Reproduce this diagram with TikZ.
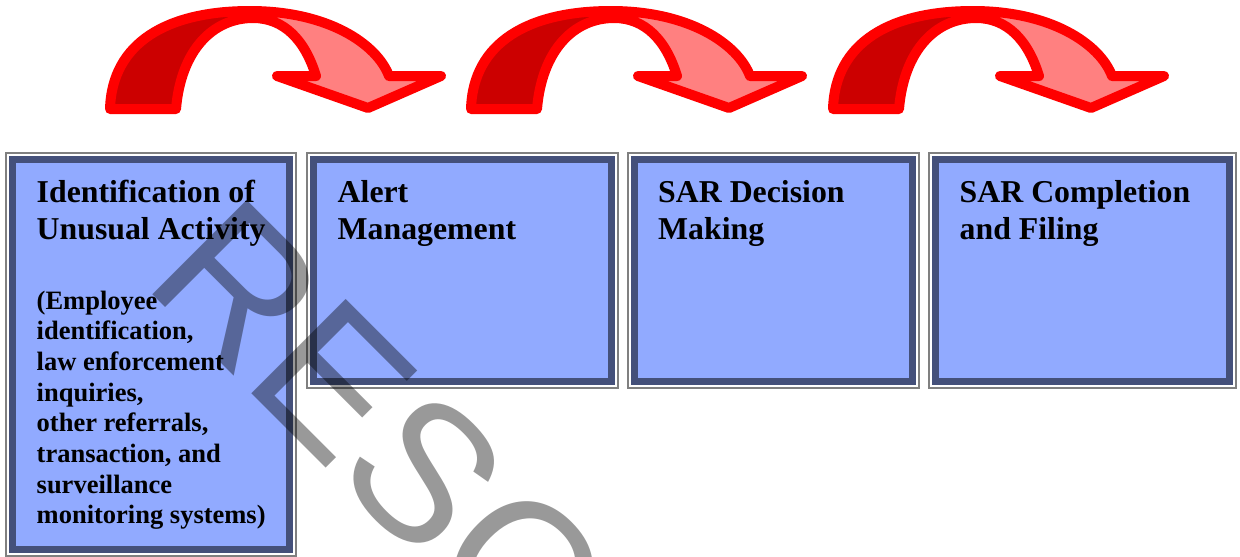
\documentclass[tikz,border=0pt]{standalone}
\usepackage{fontspec}
\setmainfont{Liberation Serif}
\newfontfamily\stampfont{Liberation Sans}
\usetikzlibrary{positioning}

\definecolor{arrowred}{HTML}{FF0000}
\definecolor{arrowdark}{HTML}{CC0000}
\definecolor{arrowlight}{HTML}{FF8080}
\definecolor{boxnavy}{HTML}{44507A}
\definecolor{boxfill}{HTML}{91AAFF}
\definecolor{boxgray}{HTML}{808080}

% outline of one bent arrow, pixel units
\newcommand{\bendpath}{(110,109) .. controls (112,42) and (168,11) .. (250,11)
	.. controls (328,11) and (377,44) .. (389,76) -- (441,76) -- (368,108) -- (277,76) -- (316,76)
	.. controls (305,40) and (284,18) .. (253,18)
	.. controls (213,18) and (181,50) .. (176,109) -- cycle}

\tikzset{
	bendline/.style={draw=arrowred, line width=10pt, line join=round},
	stagebox/.style={draw=boxnavy, line width=7pt, fill=boxfill, inner sep=0pt, outer sep=0pt, anchor=north west},
	frameline/.style={draw=boxgray, line width=2pt},
	stagetitle/.style={font=\fontsize{31.8}{37}\selectfont\bfseries, align=left, inner sep=0pt, anchor=north west},
	stagebody/.style={font=\fontsize{26.5}{30.7}\selectfont\bfseries, align=left, inner sep=0pt, anchor=north west},
	stampmark/.style={font=\stampfont\fontsize{194}{194}\selectfont, text=black, text opacity=0.4, rotate=-45, anchor=base west, inner sep=0pt}
}

\begin{document}
\begin{tikzpicture}[x=1pt, y=-1pt]
	\useasboundingbox (0,0) rectangle (1240,557);
	\clip (0,0) rectangle (1240,557);

	% bent arrows
	\foreach \dx in {0,361,723}{
		\begin{scope}[xshift=\dx pt]
			\fill[arrowred] \bendpath;
			\begin{scope}
				\clip \bendpath;
				\fill[arrowdark] (100,0) rectangle (237,120);
				\fill[arrowlight] (275,0) rectangle (450,120);
			\end{scope}
			\draw[bendline] \bendpath;
		\end{scope}
	}

	% stages
	\node[stagebox, minimum width=277pt, minimum height=390pt] (ident) at (12.5,159.5) {};
	\node[stagebox, minimum width=298pt, minimum height=222pt, right=24pt of ident.north east, anchor=north west] (alert) {};
	\node[stagebox, minimum width=278pt, minimum height=222pt, right=23pt of alert.north east, anchor=north west] (decide) {};
	\node[stagebox, minimum width=294pt, minimum height=222pt, right=23pt of decide.north east, anchor=north west] (filing) {};
	\foreach \b in {ident,alert,decide,filing}
		\draw[frameline] ([shift={(-6.5pt,6.5pt)}]\b.north west) rectangle ([shift={(6.5pt,-6.5pt)}]\b.south east);

	\node[stagetitle] (ident-title) at ([shift={(24pt,-20.5pt)}]ident.north west) {Identification of\\Unusual Activity};
	\node[stagebody] (ident-body) at ([shift={(24pt,-131pt)}]ident.north west) {(Employee\\identification,\\law enforcement\\inquiries,\\other referrals,\\transaction, and\\surveillance\\monitoring systems)};
	\node[stagetitle] (alert-title) at ([shift={(24pt,-20.5pt)}]alert.north west) {Alert\\Management};
	\node[stagetitle] (decide-title) at ([shift={(23.5pt,-20.5pt)}]decide.north west) {SAR Decision\\Making};
	\node[stagetitle] (filing-title) at ([shift={(24pt,-20.5pt)}]filing.north west) {SAR Completion\\and Filing};

	% watermark
	\node[stampmark] (stamp) at (141,283) {RESCINDED};
\end{tikzpicture}
\end{document}
